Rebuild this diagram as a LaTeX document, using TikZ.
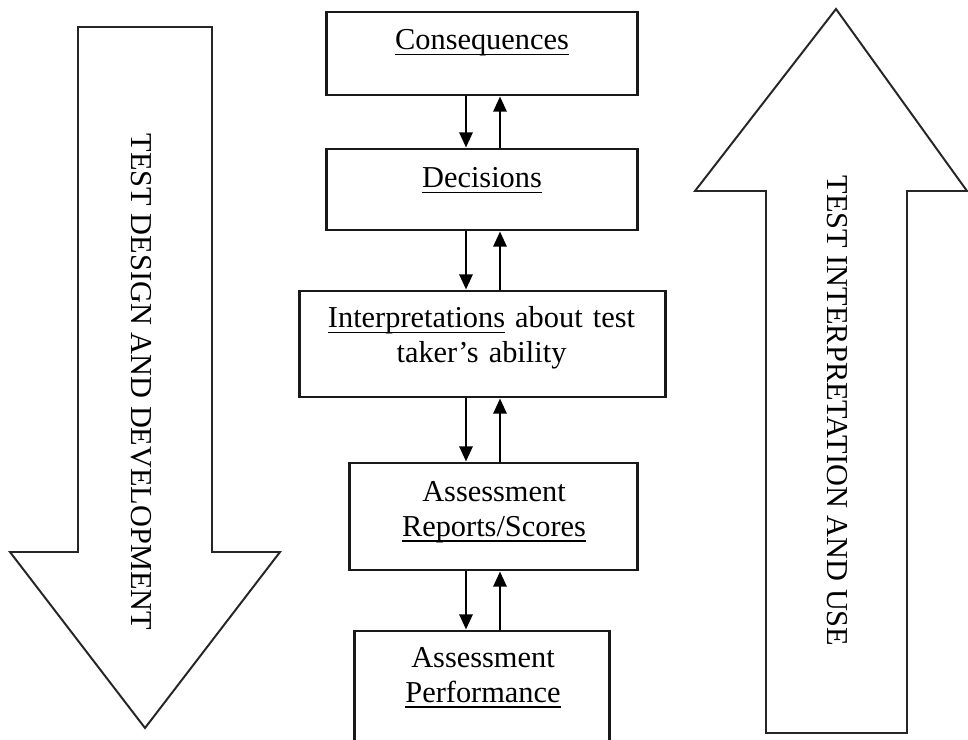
\documentclass[tikz,border=0pt]{standalone}
\usepackage{fontspec}
\setmainfont{Liberation Serif}
\usetikzlibrary{arrows.meta}

\newcommand{\uword}[1]{\leavevmode\setbox0\hbox{#1}\rlap{\rule[-0.17em]{\wd0}{0.05em}}\box0\relax}

\begin{document}
\begin{tikzpicture}[
          x=0.025cm, y=-0.025cm,
          font=\fontsize{21.6}{24.5}\selectfont,
          bigarrow/.style={draw=black!85,line width=1.4pt},
          stage/.style={draw=black!90,line width=2.1pt,inner sep=0pt},
          link/.style={-{Triangle[width=0.33cm,length=0.38cm]},line width=1.8pt},
          caption/.style={text width=9.5cm,align=center,inner sep=0pt,anchor=base},
          sidetext/.style={rotate=-90,inner sep=0pt},
        ]

        \clip (0, 0) rectangle (968, 740);

        \draw[bigarrow] (78, 27) -- (212, 27) -- (212, 552) -- (280, 552)
          -- (145, 728) -- (10, 552) -- (78, 552) -- cycle;
        \draw[bigarrow] (836, 9) -- (967, 191) -- (907, 191) -- (907, 733)
          -- (766, 733) -- (766, 191) -- (695, 191) -- cycle;

        \path (141, 382) node[sidetext] (design) {TEST DESIGN AND DEVELOPMENT};
        \path (837, 411) node[sidetext] (use) {TEST INTERPRETATION AND USE};

        \node[stage,minimum width=7.75cm,minimum height=2.075cm] (cons) at (482, 53.5) {};
        \node[stage,minimum width=7.75cm,minimum height=2.025cm] (dec) at (482, 189.5) {};
        \node[stage,minimum width=9.125cm,minimum height=2.65cm] (interp) at (482.5, 344) {};
        \node[stage,minimum width=7.175cm,minimum height=2.675cm] (report) at (493.5, 516.5) {};
        \node[stage,minimum width=6.35cm,minimum height=3.725cm] (perf) at (482, 705.5) {};

        \path (482, 50) node[caption] (constext) {\uword{Consequences}};
        \path (482, 188) node[caption] (dectext) {\uword{Decisions}};
        \path (481.5, 328) node[caption] (interptext) {\uword{Interpretations} about test\\taker's ability};
        \path (494, 502) node[caption] (reporttext) {Assessment\\\uword{Reports/Scores}};
        \path (483, 668) node[caption] (perftext) {Assessment\\\uword{Performance}};

        \coordinate (dn) at (466, 0);
        \coordinate (up) at (500, 0);

        \draw[link] (cons.south -| dn) -- (dec.north -| dn);
        \draw[link] (dec.north -| up) -- (cons.south -| up);
        \draw[link] (dec.south -| dn) -- (interp.north -| dn);
        \draw[link] (interp.north -| up) -- (dec.south -| up);
        \draw[link] (interp.south -| dn) -- (report.north -| dn);
        \draw[link] (report.north -| up) -- (interp.south -| up);
        \draw[link] (report.south -| dn) -- (perf.north -| dn);
        \draw[link] (perf.north -| up) -- (report.south -| up);

      \end{tikzpicture}
\end{document}
